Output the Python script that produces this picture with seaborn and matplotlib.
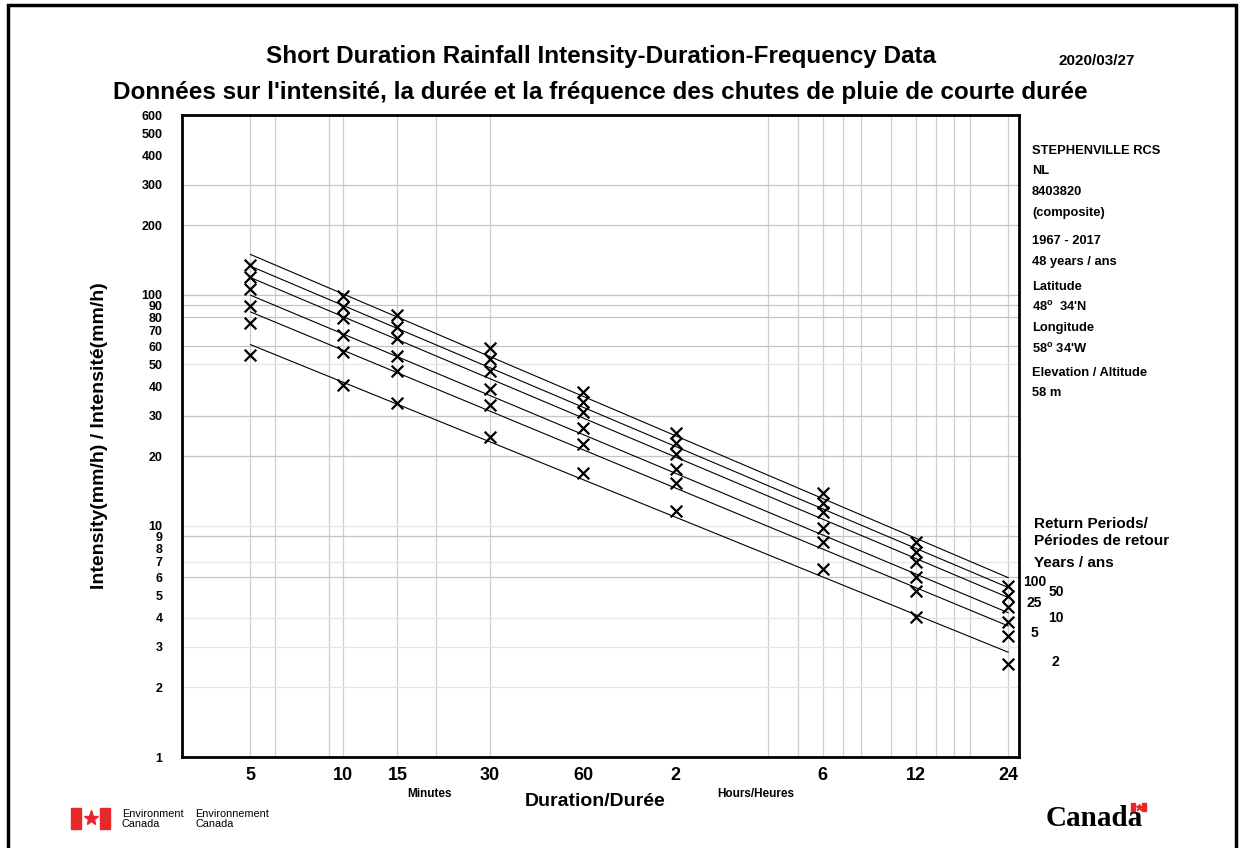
import numpy as np
import pandas as pd
import seaborn as sns
import matplotlib.pyplot as plt
from matplotlib.patches import Rectangle
from matplotlib.lines import Line2D
from matplotlib.ticker import NullLocator

# durations in minutes (5 min .. 24 h)
durations = [5, 10, 15, 30, 60, 120, 360, 720, 1440]
return_periods = [2, 5, 10, 25, 50, 100]

# intensity (mm/h), one list per return period
int_2yr = [55.0, 40.8, 34.1, 24.2, 16.9, 11.6, 6.51, 4.03, 2.53]
int_5yr = [75.7, 56.8, 46.6, 33.4, 22.6, 15.4, 8.55, 5.25, 3.33]
int_10yr = [89.4, 66.7, 54.6, 39.2, 26.5, 17.6, 9.77, 6.00, 3.83]
int_25yr = [106.0, 79.3, 64.9, 47.0, 31.1, 20.5, 11.5, 7.01, 4.45]
int_50yr = [119.0, 88.5, 72.9, 52.5, 34.3, 22.8, 12.6, 7.74, 4.96]
int_100yr = [134.0, 99.3, 81.9, 58.8, 38.1, 25.3, 13.9, 8.55, 5.52]

# fitted IDF lines: value at 5 min and at 24 h
line_start = [60.9, 84.4, 99.7, 118.8, 133.1, 149.6]
line_end = [2.84, 3.69, 4.21, 4.90, 5.41, 5.97]

xtick_pos = [5, 10, 15, 30, 60, 120, 360, 720, 1440]
xtick_labels = ['5', '10', '15', '30', '60', '2', '6', '12', '24']
ytick_pos = [1, 2, 3, 4, 5, 6, 7, 8, 9, 10, 20, 30, 40, 50, 60, 70, 80, 90,
             100, 200, 300, 400, 500, 600]
ytick_labels = [str(v) for v in ytick_pos]

station_info = ['STEPHENVILLE RCS', 'NL', '8403820', '(composite)',
                '1967 - 2017', '48 years / ans', 'Latitude', "48$^{\\mathregular{o}}$  34'N",
                'Longitude', "58$^{\\mathregular{o}}$ 34'W", 'Elevation / Altitude', '58 m']

all_series = [int_2yr, int_5yr, int_10yr, int_25yr, int_50yr, int_100yr]
points = pd.DataFrame(
    [(rp, d, v) for rp, vals in zip(return_periods, all_series) for d, v in zip(durations, vals)],
    columns=['period', 'duration', 'intensity'])
lines = pd.DataFrame(
    [(rp, d, v) for rp, a, b in zip(return_periods, line_start, line_end)
     for d, v in ((durations[0], a), (durations[-1], b))],
    columns=['period', 'duration', 'intensity'])

sns.set_theme(style='white')
plt.rcParams['font.family'] = ['Liberation Sans', 'DejaVu Sans']
plt.rcParams['mathtext.fontset'] = 'custom'
plt.rcParams['mathtext.rm'] = 'Liberation Sans:bold'
plt.rcParams['text.color'] = 'black'
plt.rcParams['xtick.color'] = 'black'
plt.rcParams['ytick.color'] = 'black'
plt.rcParams['axes.labelcolor'] = 'black'

W, H = 1243, 848
fig = plt.figure(figsize=(W / 100, H / 100), dpi=100)


def fx(x):
    return x / W


def fy(y):
    return 1 - y / H


ax = fig.add_axes([fx(182), fy(757), fx(1019) - fx(182), fy(115) - fy(757)])
ax.set_xscale('log')
ax.set_yscale('log')

# grid lines (drawn by hand, the original uses an irregular set)
grid_x = [5, 6, 9, 10, 15, 20, 30, 240, 300, 360, 420, 480, 600, 720, 840, 960, 1080, 1440]
for v in grid_x:
    ax.axvline(v, color='#cfcfcf', lw=0.9, zorder=0)
for v in [300, 200, 100, 90, 80, 60, 30, 20, 9, 6]:
    ax.axhline(v, color='#c4c4c4', lw=0.9, zorder=0)
for v in [50, 10, 7, 4, 3, 2]:
    ax.axhline(v, color='#e6e6e6', lw=0.9, zorder=0)

sns.lineplot(data=lines, x='duration', y='intensity', units='period', estimator=None,
             color='black', linewidth=0.8, legend=False, ax=ax, zorder=2)
sns.scatterplot(data=points, x='duration', y='intensity', marker='x', color='black',
                s=70, linewidth=1.6, legend=False, ax=ax, zorder=3)

ax.set_xlim(3, 1560)
ax.set_ylim(1, 600)
ax.set_xticks(xtick_pos, xtick_labels)
ax.set_yticks(ytick_pos, ytick_labels)
ax.xaxis.set_minor_locator(NullLocator())
ax.yaxis.set_minor_locator(NullLocator())
ax.tick_params(axis='x', length=0, pad=7, labelsize=13)
ax.tick_params(axis='y', length=0, pad=14, labelsize=9)
for lab in ax.get_xticklabels() + ax.get_yticklabels():
    lab.set_fontweight('bold')
ax.set_xlabel('')
ax.set_ylabel('')
for sp in ax.spines.values():
    sp.set_color('black')
    sp.set_linewidth(2)

# titles
fig.text(fx(601), fy(57), 'Short Duration Rainfall Intensity-Duration-Frequency Data',
         ha='center', va='center', fontsize=17.5, fontweight='bold')
fig.text(fx(600), fy(93), "Données sur l'intensité, la durée et la fréquence des chutes de pluie de courte durée",
         ha='center', va='center', fontsize=17.5, fontweight='bold')
fig.text(fx(1097), fy(61), '2020/03/27', ha='center', va='center', fontsize=11, fontweight='bold')

# axis titles
fig.text(fx(100), fy(436), 'Intensity(mm/h) / Intensité(mm/h)', rotation=90,
         ha='center', va='center', fontsize=14, fontweight='bold')
fig.text(fx(595), fy(802), 'Duration/Durée', ha='center', va='center', fontsize=14, fontweight='bold')
fig.text(fx(429), fy(794), 'Minutes', ha='center', va='center', fontsize=8.5, fontweight='bold')
fig.text(fx(756), fy(794), 'Hours/Heures', ha='center', va='center', fontsize=8.5, fontweight='bold')

# station block on the right
info_y = [151, 171, 192, 213, 241, 262, 287, 307, 328, 349, 373, 393]
for txt, y in zip(station_info, info_y):
    fig.text(fx(1032), fy(y), txt, ha='left', va='center', fontsize=9.3, fontweight='bold')
for txt, y in zip(['Return Periods/', 'Périodes de retour', 'Years / ans'], [524, 541, 563]):
    fig.text(fx(1034), fy(y), txt, ha='left', va='center', fontsize=11, fontweight='bold')

# return period labels next to the 24 h column
label_px = [(1055, 662), (1034, 633), (1056, 618), (1034, 603), (1056, 592), (1035, 582)]
for rp, (x, y) in zip(return_periods, label_px):
    fig.text(fx(x), fy(y), str(rp), ha='center', va='center', fontsize=10, fontweight='bold')

# Environment Canada signature
red = '#e8272c'
fig.patches.append(Rectangle((fx(71), fy(829)), fx(10), fy(808) - fy(829), color=red, transform=fig.transFigure))
fig.patches.append(Rectangle((fx(100), fy(829)), fx(10), fy(808) - fy(829), color=red, transform=fig.transFigure))
fig.add_artist(Line2D([fx(90.5)], [fy(818)], marker='*', markersize=11, color=red,
                      linestyle='none', transform=fig.transFigure))
fig.text(fx(122), fy(819), 'Environment\nCanada', ha='left', va='center', fontsize=7.8, linespacing=1.1)
fig.text(fx(195), fy(819), 'Environnement\nCanada', ha='left', va='center', fontsize=7.8, linespacing=1.1)

fig.text(fx(1094), fy(818), 'Canada', ha='center', va='center', fontsize=21, fontweight='bold',
         family=['Liberation Serif', 'DejaVu Serif'])
fig.patches.append(Rectangle((fx(1131), fy(811)), fx(4), fy(803) - fy(811), color=red, transform=fig.transFigure))
fig.patches.append(Rectangle((fx(1142), fy(811)), fx(4), fy(803) - fy(811), color=red, transform=fig.transFigure))
fig.add_artist(Line2D([fx(1138.5)], [fy(807)], marker='*', markersize=5, color=red,
                      linestyle='none', transform=fig.transFigure))

# outer frame around the page
fig.patches.append(Rectangle((fx(8), fy(850)), fx(1236) - fx(8), fy(5) - fy(850), fill=False,
                             edgecolor='black', linewidth=2.5, transform=fig.transFigure))

fig.savefig('out.png', dpi=100)
